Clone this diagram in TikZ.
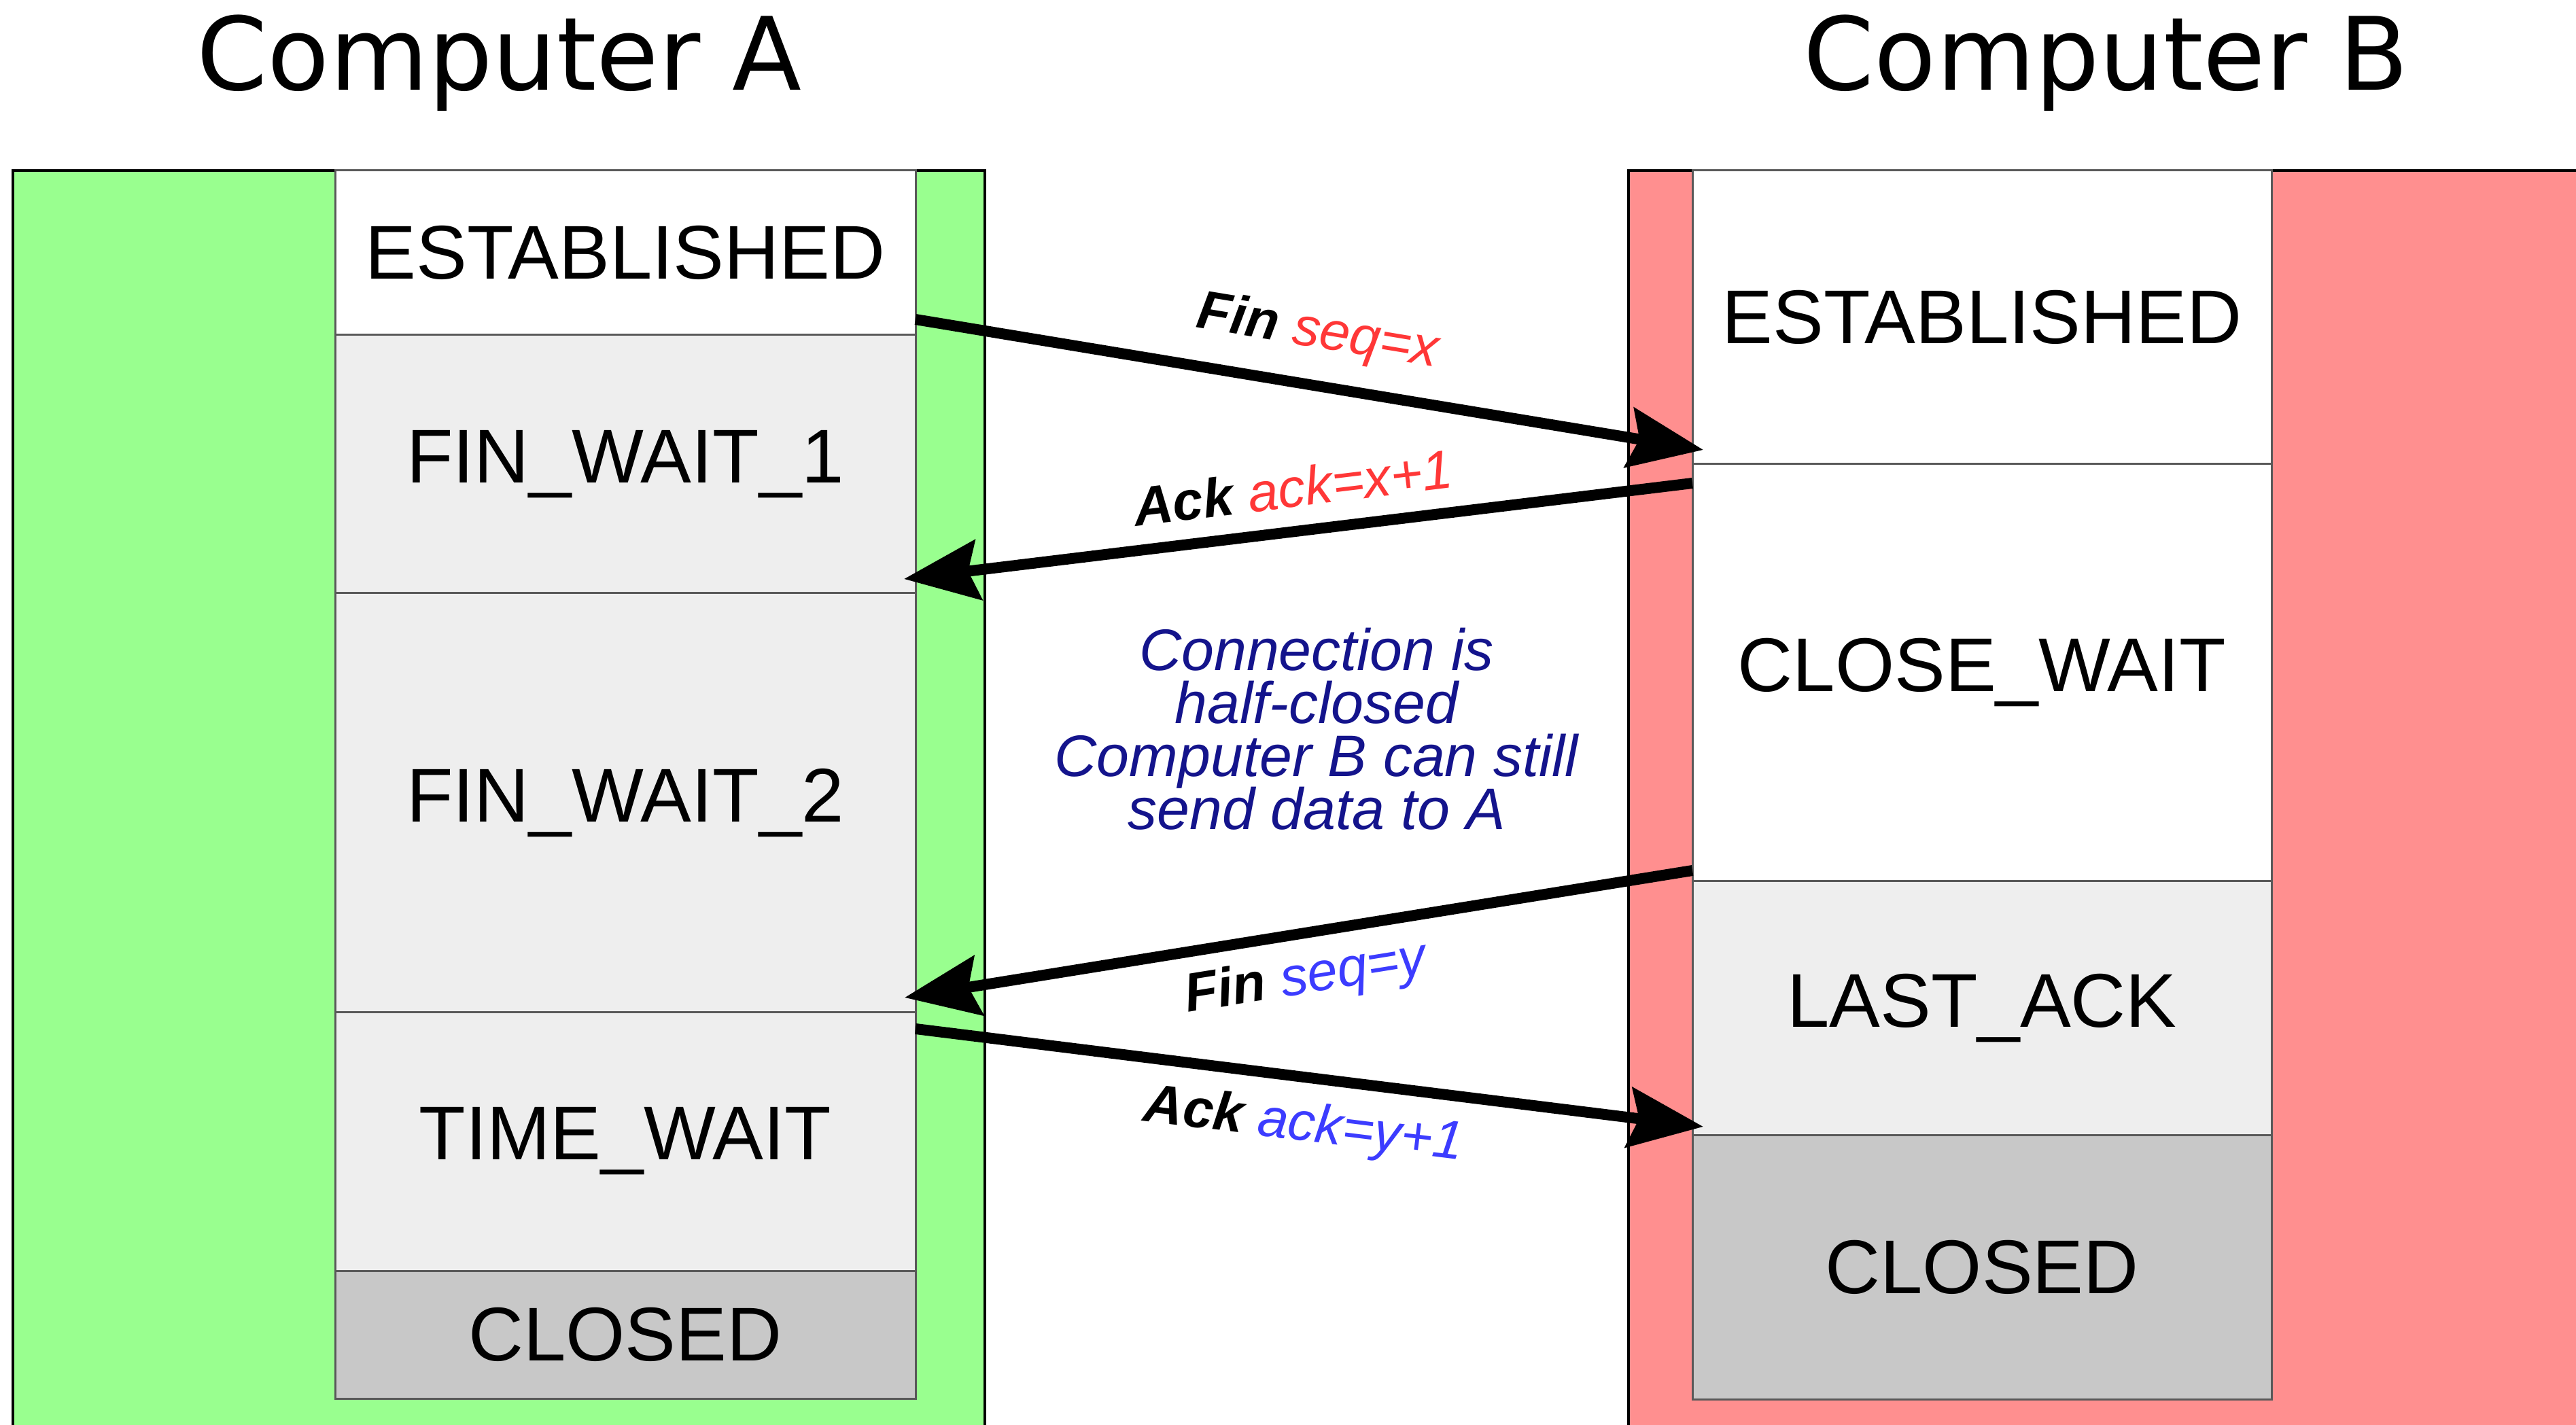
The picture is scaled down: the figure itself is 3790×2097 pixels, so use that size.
\documentclass[tikz,border=0pt]{standalone}
\usepackage{fontspec}
\setmainfont{Liberation Sans}
\newfontfamily\titlefont{DejaVu Sans}
\usetikzlibrary{positioning,calc,arrows.meta}
\definecolor{hostgreen}{RGB}{153,255,143}
\definecolor{hostred}{RGB}{255,143,143}
\definecolor{waitgray}{RGB}{238,238,238}
\definecolor{closedgray}{RGB}{200,200,200}
\definecolor{seqred}{RGB}{255,55,55}
\definecolor{seqblue}{RGB}{60,60,255}
\definecolor{notenavy}{RGB}{20,20,140}
\setlength{\lineskiplimit}{-20pt}
\begin{document}
\begin{tikzpicture}[x=0.1mm, y=-0.1mm,
    host/.style={draw, line width=0.4mm, anchor=north west, minimum height=187mm, outer sep=0pt},
    state/.style={draw=black!65, line width=0.3mm, minimum width=85.4mm, outer sep=0pt, inner sep=0pt,
        font=\fontsize{31.9}{38}\selectfont},
    title/.style={anchor=base, font=\titlefont\fontsize{42.4}{50}\selectfont},
    msg/.style={line width=1.6mm, -{Stealth[length=11mm, width=8.8mm, inset=1.5mm]}},
    lbl/.style={sloped, inner sep=0pt, font=\fontsize{22.8}{27}\selectfont\itshape},
    note/.style={align=center, text=notenavy, inner sep=0pt,
        font=\fontsize{24.5}{22.2}\selectfont\itshape}]
    \useasboundingbox (0,0) rectangle (3790,2097);
    \clip (0,0) rectangle (3790,2097);

    \node[host, fill=hostgreen, minimum width=143mm] (hostA) at (19,251) {};
    \node[host, fill=hostred, minimum width=145mm] (hostB) at (2396,251) {};

    \node[title] (titleA) at (735,133) {Computer A};
    \node[title] (titleB) at (3099,133) {Computer B};

    % Computer A
    \node[state, fill=white, anchor=north west, minimum height=24.2mm] (estA) at (493,251) {ESTABLISHED};
    \node[state, fill=waitgray, minimum height=38mm, below=0pt of estA] (finwait1) {FIN\_WAIT\_1};
    \node[state, fill=waitgray, minimum height=61.6mm, below=0pt of finwait1] (finwait2) {FIN\_WAIT\_2};
    \node[state, fill=waitgray, minimum height=38.1mm, below=0pt of finwait2] (timewait) {TIME\_WAIT};
    \node[state, fill=closedgray, minimum height=18.8mm, below=0pt of timewait] (closedA) {CLOSED};

    % Computer B
    \node[state, fill=white, anchor=north west, minimum width=85.2mm, minimum height=43.2mm] (estB) at (2490,251) {ESTABLISHED};
    \node[state, fill=white, minimum width=85.2mm, minimum height=61.3mm, below=0pt of estB] (closewait) {CLOSE\_WAIT};
    \node[state, fill=waitgray, minimum width=85.2mm, minimum height=37.4mm, below=0pt of closewait] (lastack) {LAST\_ACK};
    \node[state, fill=closedgray, minimum width=85.2mm, minimum height=38.9mm, below=0pt of lastack] (closedB) {CLOSED};

    \coordinate (finxOut) at ($(estA.south east)+(0,-23)$);
    \coordinate (finxIn) at ($(estB.south west)+(16,-21)$);
    \coordinate (ackxOut) at ($(closewait.north west)+(0,28)$);
    \coordinate (ackxIn) at ($(finwait1.south east)+(-17,-21)$);
    \coordinate (finyOut) at ($(closewait.south west)+(0,-15)$);
    \coordinate (finyIn) at ($(finwait2.south east)+(-16,-21)$);
    \coordinate (ackyOut) at ($(timewait.north east)+(0,25)$);
    \coordinate (ackyIn) at ($(lastack.south west)+(16,-12)$);

    \draw[msg] (finxOut) -- node[lbl, above=3.1mm] {\textbf{Fin} \textcolor{seqred}{seq=x}} (finxIn);
    \draw[msg] (ackxOut) -- node[lbl, above=2.7mm] {\textbf{Ack} \textcolor{seqred}{ack=x+1}} (ackxIn);
    \draw[msg] (finyOut) -- node[lbl, below=2.2mm] {\textbf{Fin} \textcolor{seqblue}{seq=y}} (finyIn);
    \draw[msg] (ackyOut) -- node[lbl, below=2.7mm] {\textbf{Ack} \textcolor{seqblue}{ack=y+1}} (ackyIn);

    \node[note] (halfclosed) at (1937,1073) {Connection is\\half-closed\\Computer B can still\\send data to A};
\end{tikzpicture}
\end{document}
